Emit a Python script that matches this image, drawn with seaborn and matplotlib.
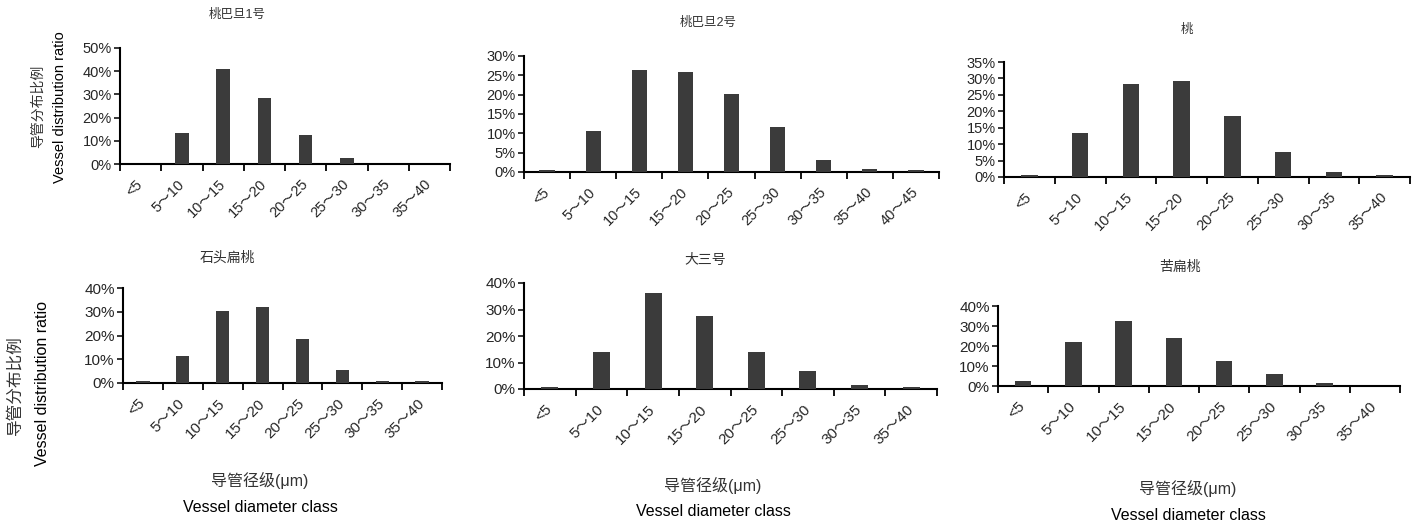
import numpy as np
import matplotlib
matplotlib.use("Agg")
import matplotlib.pyplot as plt
import seaborn as sns
from matplotlib.ticker import PercentFormatter, FixedLocator

sns.set_style("ticks")
plt.rcParams['font.family'] = ['Liberation Sans', 'Noto Sans CJK SC', 'DejaVu Sans']

cats8 = ["<5", "5～10", "10～15", "15～20", "20～25", "25～30", "30～35", "35～40"]
cats9 = cats8 + ["40～45"]

titles = ["桃巴旦1号", "桃巴旦2号", "桃", "石头扁桃", "大三号", "苦扁桃"]
vals_1 = [0, 13.5, 41.0, 28.5, 12.5, 2.5, 0, 0]
vals_2 = [0.5, 10.5, 26.3, 25.9, 20.1, 11.7, 3.0, 0.9, 0.4]
vals_3 = [0.5, 13.5, 28.2, 29.2, 18.6, 7.7, 1.6, 0.5]
vals_4 = [1.0, 11.5, 30.2, 32.0, 18.6, 5.5, 1.0, 1.0]
vals_5 = [0.8, 13.8, 36.3, 27.5, 13.8, 6.9, 1.5, 0.8]
vals_6 = [2.5, 21.8, 32.5, 24.0, 12.3, 6.0, 1.3, 0]
ymax = [50, 30, 35, 40, 40, 40]
ystep = [10, 5, 5, 10, 10, 10]

W, H = 1417, 528
fig = plt.figure(figsize=(W / 100, H / 100), dpi=100)

# axes boxes in pixels: left, right, top, bottom
boxes = [(120, 450, 48, 164), (524, 939, 56, 172), (1004, 1410, 62, 177),
         (123, 442, 288, 383), (524, 937, 283, 389), (998, 1400, 306, 386)]
title_pos = [(237, 15), (708, 23), (1187, 30), (227, 258), (705, 260), (1180, 267)]
data = [(cats8, vals_1), (cats9, vals_2), (cats8, vals_3),
        (cats8, vals_4), (cats8, vals_5), (cats8, vals_6)]
tick_fs = [10.5, 10.5, 10.5, 11, 11, 11]

for i, (cats, vals) in enumerate(data):
    l, r, t, b = boxes[i]
    ax = fig.add_axes([l / W, 1 - b / H, (r - l) / W, (b - t) / H])
    sns.barplot(x=cats, y=vals, color="#3b3b3b", width=0.33, saturation=1,
                linewidth=0, ax=ax)
    for p in ax.patches:
        p.set_zorder(3)
        p.set_linewidth(0)
    n = len(cats)
    ax.set_xlim(-0.5, n - 0.5)
    ax.set_ylim(0, ymax[i])
    ax.set_yticks(np.arange(0, ymax[i] + 0.1, ystep[i]))
    ax.yaxis.set_major_formatter(PercentFormatter(decimals=0))
    ax.xaxis.set_minor_locator(FixedLocator(np.arange(-0.5, n, 1.0)))
    ax.tick_params(axis="x", which="major", length=0, pad=13, labelsize=tick_fs[i])
    ax.tick_params(axis="x", which="minor", length=5, width=1.3, direction="out", color="black")
    ax.tick_params(axis="y", length=4, width=1.3, labelsize=tick_fs[i], pad=2)
    for lab in ax.get_xticklabels():
        lab.set_rotation(45)
        lab.set_ha("right")
        lab.set_va("center")
        lab.set_rotation_mode("anchor")
    ax.set_xlabel("")
    ax.set_ylabel("")
    sns.despine(ax=ax)
    for s in ["left", "bottom"]:
        ax.spines[s].set_linewidth(1.5)
        ax.spines[s].set_color("black")
    tx, ty = title_pos[i]
    fig.text(tx / W, 1 - ty / H, titles[i], ha="center", va="center",
             fontsize=9 if i < 3 else 10, color="#333333")

# y labels
fig.text(38 / W, 1 - 106 / H, "导管分布比例", rotation=90, ha="center", va="center",
         fontsize=10, color="#333333")
fig.text(60 / W, 1 - 107 / H, "Vessel distribution ratio", rotation=90, ha="center",
         va="center", fontsize=10.5, color="black")
fig.text(15 / W, 1 - 385 / H, "导管分布比例", rotation=90, ha="center", va="center",
         fontsize=12, color="#333333")
fig.text(43 / W, 1 - 383 / H, "Vessel distribution ratio", rotation=90, ha="center",
         va="center", fontsize=11.5, color="black")

# x labels
for cx, y1, y2 in [(260, 480, 507), (713, 485, 512), (1188, 488, 515)]:
    fig.text(cx / W, 1 - y1 / H, "导管径级(μm)", ha="center", va="center",
             fontsize=11.5, color="#333333")
    fig.text(cx / W, 1 - y2 / H, "Vessel diameter class", ha="center", va="center",
             fontsize=11.5, color="black")

fig.savefig("out.png", dpi=100)
